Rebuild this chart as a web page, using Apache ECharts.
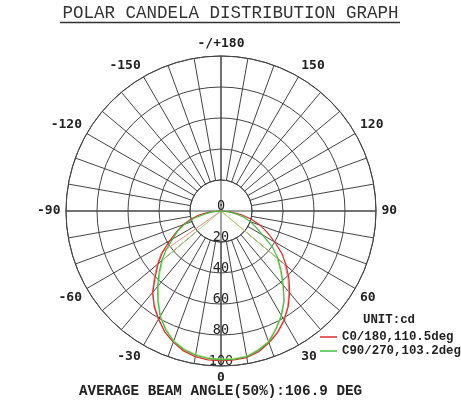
<!DOCTYPE html>
<html>
<head>
<meta charset="utf-8">
<script src="https://cdn.jsdelivr.net/npm/echarts@6/dist/echarts.min.js"></script>
<style>
  html, body { margin: 0; padding: 0; background: #fff; }
  #chart { width: 461px; height: 402px; }
</style>
</head>
<body>
<div id="chart"></div>
<script>
// gamma angle in degrees, 0 = straight down
var angles = [-90, -85, -80, -75, -70, -65, -60, -55, -50, -45, -40, -35, -30, -25, -20, -15, -10, -5,
  0, 5, 10, 15, 20, 25, 30, 35, 40, 45, 50, 55, 60, 65, 70, 75, 80, 85, 90];

// C0/180 plane (red)
var c0Outer = [0, 7, 14, 20, 26, 31.5, 38, 46, 53, 60, 68.5, 75, 80.5, 86, 90, 93.5, 95.5, 96.5,
  96.5, 96.5, 96, 94, 90.5, 86.5, 81.5, 75.5, 69, 62, 55, 48, 40, 33, 27, 20, 13, 6, 0];
var c0Inner = [0, 0, 0, 0, 0, 0, 0, 47, 54, 61, 69, 75.5, 81, 86, 90, 93, 95, 96,
  96, 96, 95.5, 93.5, 90, 86, 81, 75, 68, 61, 53.5, 0, 0, 0, 0, 0, 0, 0, 0];

// C90/270 plane (green)
var c90Outer = [0, 5, 10, 18, 25, 31, 36, 43, 50, 56.5, 63.5, 71, 78.5, 84.5, 89.5, 92.5, 94.5, 95.5,
  96, 96, 95.5, 93, 90, 84, 78, 71, 62.5, 55, 48, 40.5, 31, 25, 20, 15, 9, 4, 0];
var c90Inner = [0, 0, 0, 0, 0, 0, 0, 0, 49, 55.5, 63, 70.5, 78, 84, 89, 92, 94, 95,
  95.5, 95.5, 95, 92.5, 89.5, 83.5, 77.5, 70.5, 62, 54, 47, 0, 0, 0, 0, 0, 0, 0, 0];

var radiusTicks = [0, 20, 40, 60, 80, 100];
var seriesNames = ['C0/180,110.5deg', 'C90/270,103.2deg'];

var gridColor = '#444';
var monoFont = 'Liberation Mono';

function pairs(vals) {
  return angles.map(function (a, i) { return [vals[i], a]; });
}

var chart = echarts.init(document.getElementById('chart'));
var option = {
  animation: false,
  backgroundColor: '#fff',
  title: [
    {
      text: 'POLAR CANDELA DISTRIBUTION GRAPH',
      left: 'center', top: 4, padding: 0,
      textStyle: { fontFamily: monoFont, fontSize: 17.5, fontWeight: 'normal', color: '#333' }
    },
    {
      text: 'UNIT:cd',
      left: 363, top: 314, padding: 0,
      textStyle: { fontFamily: monoFont, fontSize: 12.4, fontWeight: 'bold', color: '#222' }
    },
    {
      text: 'AVERAGE BEAM ANGLE(50%):106.9 DEG',
      left: 79, top: 384, padding: 0,
      textStyle: { fontFamily: monoFont, fontSize: 14.3, fontWeight: 'bold', color: '#222' }
    }
  ],
  graphic: [
    { type: 'line', shape: { x1: 60, y1: 22.5, x2: 400, y2: 22.5 }, style: { stroke: '#333', lineWidth: 1.3 } }
  ],
  legend: {
    orient: 'vertical',
    left: 320, top: 331,
    padding: 0,
    itemGap: 2,
    itemWidth: 17, itemHeight: 1.5,
    icon: 'rect',
    data: seriesNames,
    textStyle: { fontFamily: monoFont, fontSize: 12.4, fontWeight: 'bold', color: '#222' }
  },
  polar: [
    { center: [221, 211], radius: [31, 155] },
    { center: [221, 211], radius: [0, 155] },
    { center: [221, 211], radius: [0, 155] }
  ],
  angleAxis: [
    {
      polarIndex: 0, type: 'value', min: 0, max: 360, interval: 10,
      startAngle: 270, clockwise: false,
      axisLine: { lineStyle: { color: gridColor, width: 1 } },
      axisTick: { show: false },
      splitLine: { lineStyle: { color: gridColor, width: 1 } },
      axisLabel: {
        margin: 5.5,
        fontFamily: 'DejaVu Sans Mono', fontSize: 13, fontWeight: 'bold', color: '#222',
        formatter: function (v) {
          if (v % 30 !== 0 || v === 360) return '';
          if (v === 180) return '-/+180';
          return String(v > 180 ? v - 360 : v);
        }
      }
    },
    {
      polarIndex: 1, type: 'value', min: -180, max: 180, interval: 90,
      startAngle: 90, clockwise: false,
      axisLine: { show: false }, axisTick: { show: false }, axisLabel: { show: false },
      splitLine: { lineStyle: { color: gridColor, width: 1 } }
    },
    {
      polarIndex: 2, type: 'value', min: 0, max: 360, startAngle: 270, show: false
    }
  ],
  radiusAxis: [
    {
      polarIndex: 0, type: 'value', min: 20, max: 100, interval: 20,
      axisLine: { show: false }, axisTick: { show: false }, axisLabel: { show: false },
      splitLine: { lineStyle: { color: gridColor, width: 1 } }
    },
    {
      polarIndex: 1, type: 'value', min: 0, max: 100, interval: 20, show: false
    },
    {
      polarIndex: 2, type: 'value', min: radiusTicks[0], max: radiusTicks[radiusTicks.length - 1], interval: 20,
      axisLine: { show: false }, axisTick: { show: false }, splitLine: { show: false },
      axisLabel: {
        margin: 0, align: 'center', verticalAlign: 'bottom', lineHeight: 9,
        fontFamily: 'DejaVu Sans Mono', fontSize: 13.5, color: '#222'
      }
    }
  ],
  series: [
    {
      name: seriesNames[0], type: 'line', coordinateSystem: 'polar', polarIndex: 1,
      showSymbol: false, lineStyle: { color: '#f28b8b', width: 1 }, itemStyle: { color: '#e02b2b' },
      data: pairs(c0Inner), z: 3
    },
    {
      name: seriesNames[0], type: 'line', coordinateSystem: 'polar', polarIndex: 1,
      showSymbol: false, lineStyle: { color: '#e02b2b', width: 1.2 }, itemStyle: { color: '#e02b2b' },
      data: pairs(c0Outer), z: 3
    },
    {
      name: seriesNames[1], type: 'line', coordinateSystem: 'polar', polarIndex: 1,
      showSymbol: false, lineStyle: { color: '#a8dc6e', width: 1 }, itemStyle: { color: '#3fbf3f' },
      data: pairs(c90Inner), z: 4
    },
    {
      name: seriesNames[1], type: 'line', coordinateSystem: 'polar', polarIndex: 1,
      showSymbol: false, lineStyle: { color: '#3fbf3f', width: 1.2 }, itemStyle: { color: '#3fbf3f' },
      data: pairs(c90Outer), z: 4
    }
  ]
};
chart.setOption(option);
</script>
</body>
</html>
